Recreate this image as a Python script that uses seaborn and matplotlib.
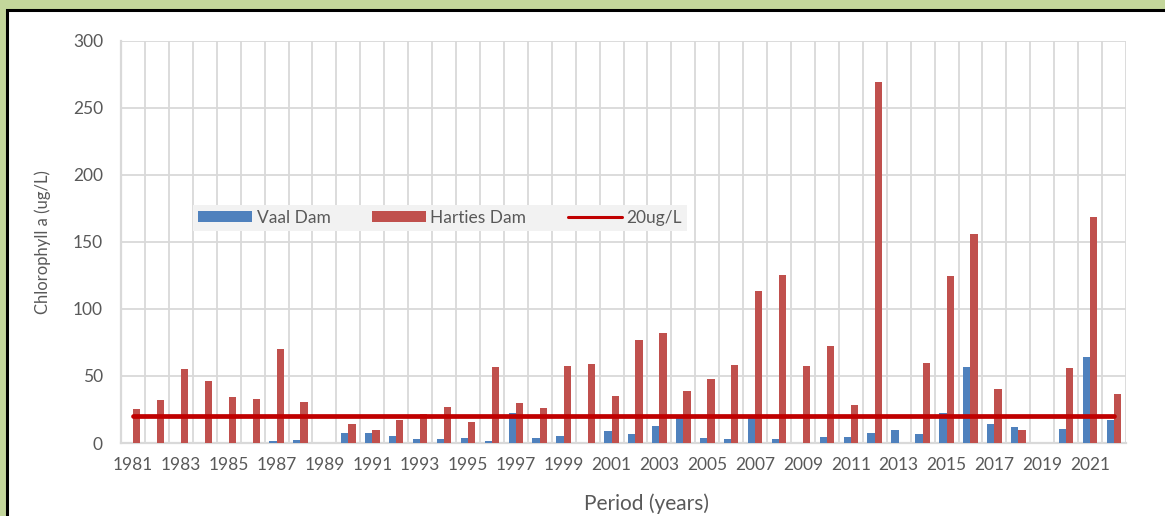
import numpy as np
import pandas as pd
import matplotlib
matplotlib.use("Agg")
import matplotlib.pyplot as plt
from matplotlib.patches import Rectangle, Patch
from matplotlib.lines import Line2D
import seaborn as sns

# Annual mean chlorophyll a (ug/L), 1981-2022
years = list(range(1981, 2023))
vaal_dam = [0, 0, 0, 0.3, 0, 0.3, 1.7, 2, 0, 7.2,
            7.2, 5.2, 3.2, 2.7, 3.5, 1.5, 22.3, 3.5, 5, 0,
            8.9, 6.9, 12.4, 18.9, 3.7, 2.7, 19.4, 3.2, 0, 4.7,
            4.7, 7.7, 9.7, 6.5, 22.3, 56.6, 14.1, 11.9, 0, 10.4,
            64.5, 17.1]
harties_dam = [25, 32, 55, 46, 34, 32.5, 70, 30.5, 0, 14.4,
               9.9, 17.4, 21.5, 26.8, 15.9, 57, 29.8, 25.8, 57.5, 59,
               35, 76.5, 82, 39, 48, 58, 113, 125, 57.5, 72.5,
               28.3, 269.5, 0, 60, 124.6, 155.7, 40, 9.7, 0, 55.8,
               168.8, 36.2]
threshold = 20
series_names = ["Vaal Dam", "Harties Dam"]
threshold_label = "20ug/L"

BLUE = "#4F81BD"
RED = "#C0504D"
LINE_RED = "#C00000"
GRID = "#D9D9D9"
TEXT = "#595959"
FRAME_GREEN = "#C3D69B"

sns.set_theme(style="white")
plt.rcParams["font.family"] = ["Lato", "DejaVu Sans"]

year_labels = [str(y) for y in years]
df = pd.DataFrame({
    "Year": year_labels * 2,
    "Series": [series_names[0]] * len(years) + [series_names[1]] * len(years),
    "Value": vaal_dam + harties_dam,
})

fig = plt.figure(figsize=(11.65, 5.16), dpi=100, facecolor=FRAME_GREEN)

# white card with a black border behind the chart
card = Rectangle((6.5 / 1165, -0.2), 1.3, 1.2 - 10 / 516,
                 transform=fig.transFigure, facecolor="white",
                 edgecolor="black", linewidth=2.2, zorder=-5)
fig.patches.append(card)

ax = fig.add_axes([121 / 1165, 1 - 443 / 516, (1126 - 121) / 1165, (443 - 40.7) / 516])
ax.set_zorder(2)
ax.set_facecolor("none")

sns.barplot(data=df, x="Year", y="Value", hue="Series", order=year_labels,
            hue_order=series_names, palette=[BLUE, RED], width=0.61, gap=0,
            dodge=True, errorbar=None, legend=False, linewidth=0,
            saturation=1, ax=ax, zorder=3)

n = len(years)
sns.lineplot(x=np.arange(n), y=np.full(n, threshold), color=LINE_RED,
             linewidth=3.4, ax=ax, zorder=4)

ax.set_xlim(-0.5, n - 0.5)
ax.set_ylim(0, 300)
ax.set_yticks(np.arange(0, 301, 50))
ax.set_xticks(np.arange(0, n, 2))
ax.set_xticklabels(year_labels[::2])
ax.set_xticks(np.arange(-0.5, n, 1), minor=True)

ax.grid(axis="y", which="major", color=GRID, linewidth=1.3, zorder=0)
ax.grid(axis="x", which="minor", color=GRID, linewidth=1.3, zorder=0)
ax.set_axisbelow(True)
for side in ["top", "right"]:
    ax.spines[side].set_visible(False)
for side in ["left", "bottom"]:
    ax.spines[side].set_color(GRID)
    ax.spines[side].set_linewidth(1.6)

ax.tick_params(axis="both", which="both", length=0)
ax.tick_params(axis="x", labelsize=12.5, labelcolor=TEXT, pad=10)
ax.tick_params(axis="y", labelsize=12.5, labelcolor=TEXT, pad=13)

ax.set_xlabel("Period (years)", fontsize=15, color=TEXT)
ax.xaxis.set_label_coords(0.523, -0.126)
ax.set_ylabel("Chlorophyll a (ug/L)", fontsize=12, color=TEXT, labelpad=16)

handles = [Patch(facecolor=BLUE, edgecolor="none"),
           Patch(facecolor=RED, edgecolor="none"),
           Line2D([0], [0], color=LINE_RED, linewidth=2.2)]
leg = fig.legend(handles, series_names + [threshold_label], ncol=3,
                 loc="center", bbox_to_anchor=(440 / 1165, 1 - 218 / 516),
                 frameon=True, fancybox=False, facecolor="#F2F2F2",
                 edgecolor="none", framealpha=1, fontsize=12.5,
                 handlelength=3.1, handleheight=0.6, handletextpad=0.25,
                 columnspacing=2.4, borderpad=0.3)
leg.set_zorder(5)
for t in leg.get_texts():
    t.set_color(TEXT)

fig.savefig("out.png", dpi=100, facecolor=FRAME_GREEN)
